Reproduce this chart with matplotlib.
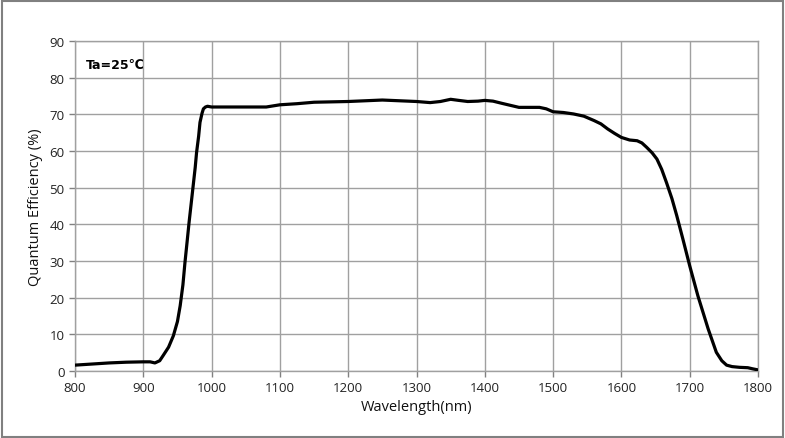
import matplotlib
matplotlib.use("Agg")
import matplotlib.pyplot as plt
from matplotlib.patches import Rectangle

wavelength = [800, 825, 850, 875, 900, 910, 917, 924, 929, 937, 944, 950, 954, 958, 961, 964, 967, 970,
              973, 976, 978, 981, 983, 986, 988, 991, 994, 1000, 1040, 1080, 1100, 1125, 1150, 1175,
              1200, 1225, 1250, 1275, 1300, 1320, 1335, 1350, 1362, 1375, 1390, 1400, 1412, 1425,
              1450, 1480, 1490, 1500, 1515, 1530, 1545, 1560, 1570, 1580, 1590, 1600, 1612, 1623,
              1630, 1637, 1645, 1652, 1659, 1666, 1674, 1681, 1690, 1700, 1712, 1727, 1739, 1747,
              1754, 1762, 1773, 1785, 1792, 1800]
qe = [1.6, 1.9, 2.2, 2.4, 2.5, 2.5, 2.2, 2.8, 4.2, 6.5, 9.6, 13.5, 17.8, 23.5, 29.6, 35.0, 40.5, 45.5,
      50.5, 55.5, 59.6, 64.0, 67.8, 70.3, 71.5, 72.0, 72.2, 72.0, 72.0, 72.0, 72.6, 72.9, 73.3, 73.4,
      73.5, 73.7, 73.9, 73.7, 73.5, 73.2, 73.5, 74.1, 73.8, 73.5, 73.6, 73.8, 73.6, 73.0,
      71.9, 71.9, 71.5, 70.7, 70.5, 70.1, 69.5, 68.3, 67.4, 66.0, 64.8, 63.7, 63.0, 62.8,
      62.2, 61.0, 59.5, 57.8, 55.0, 51.4, 47.0, 42.4, 36.0, 28.7, 20.5, 11.5, 5.1, 2.8,
      1.6, 1.2, 1.0, 0.9, 0.6, 0.3]

x_ticks = list(range(800, 1801, 100))
y_ticks = list(range(0, 91, 10))

plt.rcParams['font.family'] = ['Open Sans', 'DejaVu Sans']

fig = plt.figure(figsize=(7.85, 4.39), dpi=100)
ax = fig.add_axes([75/785, 67/439, 683/785, 330/439])

ax.plot(wavelength, qe, color='black', lw=2.3, solid_joinstyle='round', solid_capstyle='round', zorder=3)

ax.set_xlim(800, 1800)
ax.set_ylim(0, 90)
ax.set_xticks(x_ticks)
ax.set_yticks(y_ticks)
ax.grid(True, color='#a0a0a0', lw=1.0)
ax.set_axisbelow(True)
for s in ax.spines.values():
    s.set_color('#a0a0a0')
    s.set_linewidth(1.0)
ax.tick_params(axis='both', colors='#808080', labelcolor='#222222', labelsize=9.5, length=4, width=1)
ax.set_xlabel('Wavelength(nm)', fontsize=10.5, color='#111111', labelpad=3)
ax.set_ylabel('Quantum Efficiency (%)', fontsize=10.5, color='#111111', labelpad=5)

ax.text(816, 83.7, 'Ta=25\u2103', fontsize=9, fontweight='bold', va='center', ha='left',
        family=['DejaVu Sans'], color='black')

fig.patches.append(Rectangle((0.002, 0.003), 0.995, 0.993, transform=fig.transFigure,
                             fill=False, edgecolor='#808080', lw=1.5))

fig.savefig('out.png', dpi=100)
